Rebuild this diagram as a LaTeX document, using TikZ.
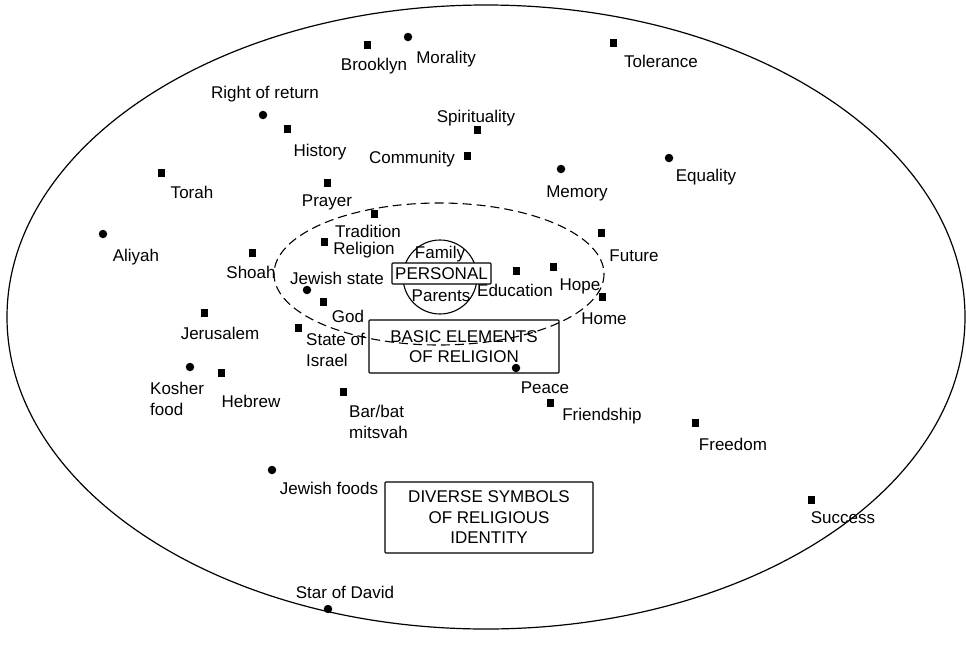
\documentclass[tikz,border=0pt]{standalone}
\usepackage{fontspec}
\setmainfont{Liberation Sans}
\begin{document}
\begin{tikzpicture}[x=1pt,y=-1pt,
  every node/.style={font=\fontsize{17}{20.5}\selectfont},
  lbl/.style={inner sep=0pt, text height=12.3pt, text depth=0pt, anchor=center},
  mlbl/.style={inner sep=0pt, anchor=base west, align=left},
  sq/.style={fill=black, inner sep=0pt, minimum width=7pt, minimum height=7.5pt},
  dot/.style={circle, fill=black, inner sep=0pt, minimum size=8.5pt},
  frame/.style={draw, line width=1.1pt, inner sep=0pt, align=center, rounded corners=0.8pt}
]
\useasboundingbox (0,0) rectangle (966,659);
% outer ellipse
\draw[line width=1.2pt] (486,317) ellipse [x radius=479, y radius=312];
% inner dashed ellipse
\draw[line width=1.1pt, dash pattern=on 9pt off 5pt] (439,274) ellipse [x radius=165, y radius=71];
% personal circle
\draw[line width=1.1pt] (440,277) circle [radius=37];
\node[frame, fill=white, minimum width=99pt, minimum height=21pt, text height=12.3pt, text depth=0pt] (personal) at (441.5,273.5) {PERSONAL};
\node[lbl] (family) at (440,252) {Family};
\node[lbl] (parents) at (441,295) {Parents};
% boxes
\node[frame, minimum width=190pt, minimum height=53pt] (basic) at (464,346.5) {BASIC ELEMENTS\\OF RELIGION};
\node[frame, minimum width=208pt, minimum height=71pt] (diverse) at (489,517.5) {DIVERSE SYMBOLS\\OF RELIGIOUS\\IDENTITY};
% markers and labels
\node[sq] (m-brooklyn) at (367,45) {};
\node[lbl] (brooklyn) at (374,64) {Brooklyn};
\node[dot] (m-morality) at (408,37) {};
\node[lbl] (morality) at (446,57) {Morality};
\node[dot] (m-return) at (263,115) {};
\node[lbl] (return) at (265,92) {Right of return};
\node[sq] (m-history) at (287,129) {};
\node[lbl] (history) at (320,150) {History};
\node[sq] (m-spirit) at (477,130) {};
\node[lbl] (spirit) at (476,116) {Spirituality};
\node[sq] (m-community) at (467,156) {};
\node[lbl] (community) at (412,157) {Community};
\node[sq] (m-torah) at (161,173) {};
\node[lbl] (torah) at (192,192) {Torah};
\node[sq] (m-prayer) at (327,183) {};
\node[lbl] (prayer) at (327,200) {Prayer};
\node[sq] (m-tradition) at (374,214) {};
\node[lbl] (tradition) at (368,231) {Tradition};
\node[sq] (m-religion) at (324,242) {};
\node[lbl] (religion) at (364,248) {Religion};
\node[dot] (m-jstate) at (307,290) {};
\node[lbl] (jstate) at (337,278) {Jewish state};
\node[sq] (m-god) at (323,302) {};
\node[lbl] (god) at (348,316) {God};
\node[sq] (m-israel) at (298,328) {};
\node[mlbl] (israel) at (306,366) {State of\\Israel};
\node[sq] (m-shoah) at (252,253) {};
\node[lbl] (shoah) at (251,272) {Shoah};
\node[dot] (m-aliyah) at (103,234) {};
\node[lbl] (aliyah) at (136,255) {Aliyah};
\node[sq] (m-jerusalem) at (204,313) {};
\node[lbl] (jerusalem) at (220,333) {Jerusalem};
\node[dot] (m-kosher) at (190,367) {};
\node[mlbl] (kosher) at (150,415) {Kosher\\food};
\node[sq] (m-hebrew) at (221,373) {};
\node[lbl] (hebrew) at (251,401) {Hebrew};
\node[sq] (m-barbat) at (343,392) {};
\node[mlbl] (barbat) at (349,438) {Bar/bat\\mitsvah};
\node[dot] (m-jfoods) at (272,470) {};
\node[lbl] (jfoods) at (329,488) {Jewish foods};
\node[dot] (m-star) at (328,609) {};
\node[lbl] (star) at (345,592) {Star of David};
\node[sq] (m-tolerance) at (613,43) {};
\node[lbl] (tolerance) at (661,61) {Tolerance};
\node[dot] (m-memory) at (561,169) {};
\node[lbl] (memory) at (577,191) {Memory};
\node[dot] (m-equality) at (669,158) {};
\node[lbl] (equality) at (706,175) {Equality};
\node[sq] (m-future) at (601,233) {};
\node[lbl] (future) at (634,255) {Future};
\node[sq] (m-hope) at (553,267) {};
\node[lbl] (hope) at (580,284) {Hope};
\node[sq] (m-education) at (516,271) {};
\node[lbl] (education) at (515,290) {Education};
\node[sq] (m-home) at (602,297) {};
\node[lbl] (home) at (604,318) {Home};
\node[dot] (m-peace) at (516,368) {};
\node[lbl] (peace) at (545,387) {Peace};
\node[sq] (m-friendship) at (550,403) {};
\node[lbl] (friendship) at (602,414) {Friendship};
\node[sq] (m-freedom) at (695,423) {};
\node[lbl] (freedom) at (733,444) {Freedom};
\node[sq] (m-success) at (811,500) {};
\node[lbl] (success) at (843,517) {Success};
\end{tikzpicture}
\end{document}
